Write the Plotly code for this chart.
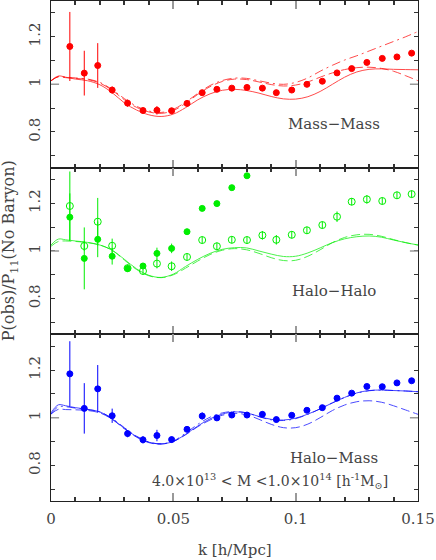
import plotly.graph_objects as go
from plotly.subplots import make_subplots

# measured k bins
k_pts = [0.0077, 0.0136, 0.0191, 0.0250, 0.0313, 0.0376, 0.0433, 0.0493, 0.0556, 0.0618,
         0.0678, 0.0739, 0.0801, 0.0864, 0.0921, 0.0984, 0.1046, 0.1109, 0.1169, 0.1229,
         0.1291, 0.1354, 0.1414, 0.1474]

# Mass-Mass
mm_pts = [1.159, 1.047, 1.079, 0.976, 0.921, 0.890, 0.891, 0.889, 0.920, 0.965, 0.979, 0.984,
          0.987, 0.984, 0.965, 0.976, 1.000, 1.013, 1.048, 1.066, 1.092, 1.109, 1.115, 1.131]
mm_err = [0.145, 0.094, 0.094, 0.015, 0.015, 0.012, 0.018, 0.012, 0.010, 0.010, 0.008, 0.008,
          0.008, 0.008, 0.008, 0.006, 0.006, 0.006, 0.006, 0.006, 0.005, 0.005, 0.005, 0.005]

# Halo-Halo (filled: first 13 bins only, open: all bins)
hh_fill = [1.142, 0.969, 1.049, 0.978, 0.926, 0.937, 0.990, 1.011, 1.081, 1.179, 1.199, 1.266, 1.316]
hh_fill_err = [0.10, 0.13, 0.075, 0.035, 0.012, 0.012, 0.024, 0.02, 0.012, 0.01, 0.01, 0.01, 0.01]
hh_open = [1.189, 1.021, 1.123, 1.022, 0.928, 0.916, 0.947, 0.936, 0.975, 1.046, 1.020, 1.047,
           1.046, 1.066, 1.047, 1.068, 1.087, 1.109, 1.144, 1.207, 1.217, 1.210, 1.234, 1.239]
hh_open_err = [0.145, 0.02, 0.10, 0.03, 0.015, 0.015, 0.02, 0.02, 0.015, 0.015, 0.015, 0.015,
               0.015, 0.018, 0.02, 0.015, 0.015, 0.015, 0.022, 0.015, 0.018, 0.015, 0.015, 0.015]

# Halo-Mass
hm_pts = [1.184, 1.039, 1.121, 1.008, 0.933, 0.907, 0.925, 0.908, 0.951, 1.007, 0.999, 1.011,
          1.011, 1.014, 0.992, 1.010, 1.031, 1.042, 1.082, 1.103, 1.131, 1.130, 1.146, 1.155]
hm_err = [0.137, 0.106, 0.10, 0.03, 0.015, 0.015, 0.024, 0.012, 0.01, 0.015, 0.008, 0.008,
          0.01, 0.012, 0.012, 0.008, 0.008, 0.008, 0.01, 0.008, 0.008, 0.008, 0.008, 0.008]

# model curves
k_mod = [0.0, 0.003, 0.006, 0.01, 0.015, 0.02, 0.025, 0.03, 0.035, 0.04, 0.045, 0.05, 0.055,
         0.06, 0.065, 0.07, 0.075, 0.08, 0.085, 0.09, 0.095, 0.1, 0.105, 0.11, 0.115, 0.12,
         0.125, 0.13, 0.135, 0.14, 0.145, 0.15]
mm_solid = [1.015, 1.035, 1.030, 1.022, 1.015, 0.998, 0.965, 0.922, 0.892, 0.872, 0.865, 0.875,
            0.902, 0.935, 0.960, 0.975, 0.979, 0.974, 0.963, 0.949, 0.939, 0.938, 0.948, 0.970,
            1.000, 1.030, 1.052, 1.063, 1.065, 1.063, 1.062, 1.061]
mm_dash = [1.015, 1.032, 1.028, 1.025, 1.020, 1.005, 0.975, 0.935, 0.903, 0.884, 0.878, 0.890,
           0.920, 0.958, 0.990, 1.012, 1.022, 1.020, 1.010, 0.999, 0.993, 0.997, 1.010, 1.030,
           1.048, 1.062, 1.070, 1.072, 1.067, 1.055, 1.036, 1.015]
mm_dashdot = [1.015, 1.032, 1.030, 1.027, 1.022, 1.008, 0.978, 0.940, 0.908, 0.888, 0.882, 0.895,
              0.925, 0.962, 0.995, 1.016, 1.026, 1.025, 1.015, 1.005, 1.000, 1.008, 1.027, 1.055,
              1.080, 1.102, 1.120, 1.140, 1.160, 1.180, 1.200, 1.222]
hh_solid = [1.025, 1.050, 1.047, 1.042, 1.036, 1.025, 1.003, 0.965, 0.925, 0.898, 0.889, 0.903,
            0.935, 0.965, 0.990, 1.007, 1.014, 1.013, 1.000, 0.987, 0.977, 0.978, 0.992, 1.013,
            1.035, 1.051, 1.060, 1.063, 1.058, 1.046, 1.035, 1.025]
hh_dash = [1.020, 1.040, 1.042, 1.040, 1.035, 1.025, 1.003, 0.962, 0.922, 0.896, 0.888, 0.900,
           0.928, 0.958, 0.985, 1.003, 1.010, 1.005, 0.990, 0.972, 0.960, 0.961, 0.978, 1.005,
           1.035, 1.057, 1.068, 1.070, 1.062, 1.048, 1.035, 1.025]
hm_solid = [1.020, 1.054, 1.050, 1.042, 1.035, 1.024, 0.995, 0.955, 0.920, 0.897, 0.890, 0.900,
            0.930, 0.965, 0.995, 1.015, 1.024, 1.020, 1.005, 0.993, 0.990, 0.998, 1.015, 1.037,
            1.062, 1.085, 1.104, 1.114, 1.116, 1.114, 1.112, 1.109]
hm_dashdot = [1.015, 1.046, 1.046, 1.040, 1.034, 1.024, 0.997, 0.958, 0.922, 0.898, 0.890, 0.902,
              0.935, 0.972, 1.002, 1.020, 1.026, 1.020, 1.004, 0.991, 0.988, 0.996, 1.014, 1.037,
              1.062, 1.085, 1.103, 1.113, 1.116, 1.114, 1.112, 1.109]
hm_dash = [1.015, 1.035, 1.034, 1.033, 1.030, 1.020, 0.993, 0.953, 0.918, 0.895, 0.889, 0.900,
           0.928, 0.962, 0.990, 1.010, 1.018, 1.012, 0.993, 0.972, 0.958, 0.958, 0.973, 1.000,
           1.030, 1.053, 1.067, 1.071, 1.065, 1.050, 1.032, 1.014]

RED, GREEN, BLUE = '#ff0000', '#00ee00', '#0000ff'
FONT = 'DejaVu Serif'
TXT = '#444444'

fig = make_subplots(rows=3, cols=1, shared_xaxes=True, vertical_spacing=0)


def model(y, color, dash, row):
    fig.add_trace(go.Scatter(x=k_mod, y=y, mode='lines', line_shape='spline', opacity=0.7,
                             line=dict(color=color, width=1, dash=dash)), row=row, col=1)


def points(x, y, err, color, symbol, size, row):
    fig.add_trace(go.Scatter(x=x, y=y, mode='markers',
                             marker=dict(color=color, symbol=symbol, size=size, line=dict(color=color, width=1)),
                             error_y=dict(type='data', array=err, color=color, thickness=1, width=0)),
                  row=row, col=1)


# panel 1
model(mm_solid, RED, 'solid', 1)
model(mm_dash, RED, '9px,4px', 1)
model(mm_dashdot, RED, '9px,4px,2px,4px', 1)
points(k_pts, mm_pts, mm_err, RED, 'circle', 6, 1)

# panel 2
model(hh_solid, GREEN, 'solid', 2)
model(hh_dash, GREEN, '9px,4px', 2)
points(k_pts, hh_open, hh_open_err, GREEN, 'circle-open', 7, 2)
points(k_pts[:len(hh_fill)], hh_fill, hh_fill_err, GREEN, 'circle', 6, 2)

# panel 3
model(hm_solid, BLUE, 'solid', 3)
model(hm_dashdot, BLUE, '9px,4px,2px,4px', 3)
model(hm_dash, BLUE, '9px,4px', 3)
points(k_pts, hm_pts, hm_err, BLUE, 'circle', 6, 3)

tickfont = dict(family=FONT, size=15, color=TXT)
for r in (1, 2, 3):
    fig.update_xaxes(range=[0, 0.15], tick0=0, dtick=0.05, ticks='inside', ticklen=8,
                     tickcolor='#999999', tickwidth=1.5,
                     minor=dict(dtick=0.01, tick0=0, ticks='inside', ticklen=4, tickcolor='#333333'),
                     showline=True, linecolor='#222222', linewidth=1, mirror='allticks',
                     showgrid=False, zeroline=False, tickfont=tickfont, automargin=False,
                     ticklabelstandoff=4, showticklabels=(r == 3), row=r, col=1)
    fig.update_yaxes(range=[0.65, 1.35], tickvals=[0.8, 1.0, 1.2], ticktext=['0.8', '1', '1.2'],
                     tickangle=-90, ticks='inside', ticklen=4, tickcolor='#333333',
                     minor=dict(dtick=0.1, tick0=0, ticks='inside', ticklen=4, tickcolor='#333333'),
                     showline=True, linecolor='#222222', linewidth=1, mirror='allticks',
                     showgrid=False, zeroline=False, tickfont=tickfont, automargin=False,
                     ticklabelstandoff=4, row=r, col=1)
    sfx = '' if r == 1 else str(r)
    for x0, x1 in ((0, 0.022), (0.978, 1)):
        fig.add_shape(type='line', xref='x%s domain' % sfx, yref='y%s' % sfx,
                      x0=x0, x1=x1, y0=1.0, y1=1.0, line=dict(color='#999999', width=1.5))

labels = [('Mass\u2212Mass', 1), ('Halo\u2212Halo', 2), ('Halo\u2212Mass', 3)]
for text, r in labels:
    sfx = '' if r == 1 else str(r)
    fig.add_annotation(text=text, x=0.1158, y=0.832, xref='x%s' % sfx, yref='y%s' % sfx,
                       xanchor='center', yanchor='middle', showarrow=False,
                       font=dict(family=FONT, size=15, color=TXT))

fig.add_annotation(text='4.0\u00d710<sup>13</sup> &lt; M &lt;1.0\u00d710<sup>14</sup> [h<sup>-1</sup>M<sub>\u2299</sub>]',
                   x=0.0894, y=0.735, xref='x3', yref='y3', xanchor='center', yanchor='middle',
                   showarrow=False, font=dict(family=FONT, size=14, color=TXT))

fig.add_annotation(text='P(obs)/P<sub>11</sub>(No Baryon)', textangle=-90,
                   x=-0.114, y=0.5, xref='paper', yref='paper', xanchor='center', yanchor='middle',
                   showarrow=False, font=dict(family=FONT, size=16, color=TXT))
fig.add_annotation(text='k [h/Mpc]', x=0.5, y=-0.098, xref='paper', yref='paper',
                   xanchor='center', yanchor='middle',
                   showarrow=False, font=dict(family=FONT, size=15, color=TXT))

fig.update_layout(width=436, height=560, showlegend=False,
                  margin=dict(l=51, r=18, t=1, b=59),
                  plot_bgcolor='white', paper_bgcolor='white')

# drop the default page margin so the figure sits at the window's corner
fig.write_html("out.html", config={'displayModeBar': False},
               post_script="document.body.style.margin='0';")
